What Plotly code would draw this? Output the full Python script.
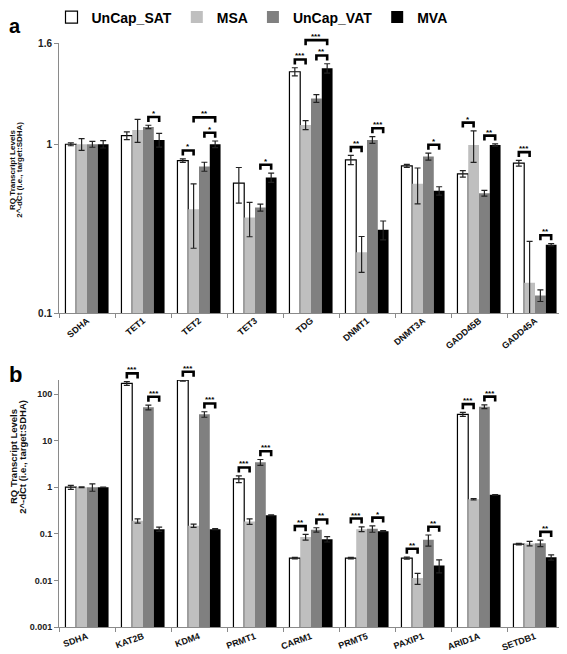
import numpy as np
import plotly.graph_objects as go

series_names = ["UnCap_SAT", "MSA", "UnCap_VAT", "MVA"]
series_colors = ["#ffffff", "#bfbfbf", "#808080", "#000000"]

# ---------------- panel a ----------------
cats_a = ["SDHA", "TET1", "TET2", "TET3", "TDG", "DNMT1", "DNMT3A", "GADD45B", "GADD45A"]
sat_a = [1.00, 1.125, 0.80, 0.588, 2.69, 0.808, 0.744, 0.668, 0.772]
sat_a_err = [0.02, 0.06, 0.02, 0.14, 0.15, 0.05, 0.015, 0.03, 0.03]
msa_a = [1.00, 1.216, 0.412, 0.368, 1.30, 0.229, 0.583, 0.99, 0.151]
msa_a_err = [0.08, 0.19, 0.17, 0.085, 0.08, 0.055, 0.14, 0.21, 0.115]
vat_a = [1.00, 1.266, 0.737, 0.422, 1.87, 1.061, 0.846, 0.513, 0.127]
vat_a_err = [0.04, 0.03, 0.045, 0.02, 0.10, 0.05, 0.04, 0.02, 0.01]
mva_a = [1.00, 1.061, 1.00, 0.635, 2.82, 0.311, 0.53, 0.99, 0.254]
mva_a_err = [0.05, 0.10, 0.045, 0.04, 0.18, 0.04, 0.03, 0.015, 0.004]
ticks_a = [0.1, 1, 10 ** 0.6]
ticktext_a = ["0.1", "1", "1.6"]
sig_a = [
    ("TET1", 2, 3, "*", 0), ("TET2", 0, 1, "*", 0), ("TET2", 2, 3, "*", 0),
    ("TET2", 1, 3, "**", 1), ("TET3", 2, 3, "*", 0), ("TDG", 0, 1, "***", 0),
    ("TDG", 2, 3, "**", 0), ("TDG", 1, 3, "***", 1), ("DNMT1", 0, 1, "**", 0),
    ("DNMT1", 2, 3, "***", 0), ("DNMT3A", 2, 3, "*", 0), ("GADD45B", 0, 1, "*", 0),
    ("GADD45B", 2, 3, "**", 0), ("GADD45A", 0, 1, "***", 0), ("GADD45A", 2, 3, "**", 0),
]

# ---------------- panel b ----------------
cats_b = ["SDHA", "KAT2B", "KDM4", "PRMT1", "CARM1", "PRMT5", "PAXIP1", "ARID1A", "SETDB1"]
sat_b = [1.0, 169, 198, 1.51, 0.0301, 0.0301, 0.0301, 36.7, 0.0601]
sat_b_err = [0.1, 15, 8, 0.25, 0.001, 0.001, 0.0015, 3.5, 0.002]
msa_b = [1.0, 0.19, 0.149, 0.184, 0.0849, 0.126, 0.0112, 0.553, 0.062]
msa_b_err = [0.02, 0.02, 0.012, 0.025, 0.012, 0.015, 0.003, 0.02, 0.007]
vat_b = [1.0, 51.8, 36.7, 3.43, 0.122, 0.128, 0.0742, 53.5, 0.063]
vat_b_err = [0.18, 6, 5, 0.5, 0.013, 0.02, 0.02, 5, 0.01]
mva_b = [1.0, 0.126, 0.126, 0.251, 0.0768, 0.114, 0.021, 0.685, 0.0313]
mva_b_err = [0.0, 0.013, 0.003, 0.005, 0.01, 0.003, 0.0065, 0.01, 0.004]
ticks_b = [0.001, 0.01, 0.1, 1, 10, 100]
ticktext_b = ["0.001", "0.01", "0.1", "1", "10", "100"]
sig_b = [
    ("KAT2B", 0, 1, "***", 0), ("KAT2B", 2, 3, "***", 0), ("KDM4", 0, 1, "***", 0),
    ("KDM4", 2, 3, "***", 0), ("PRMT1", 0, 1, "***", 0), ("PRMT1", 2, 3, "***", 0),
    ("CARM1", 0, 1, "**", 0), ("CARM1", 2, 3, "**", 0), ("PRMT5", 0, 1, "***", 0),
    ("PRMT5", 2, 3, "*", 0), ("PAXIP1", 0, 1, "**", 0), ("PAXIP1", 2, 3, "**", 0),
    ("ARID1A", 0, 1, "***", 0), ("ARID1A", 2, 3, "***", 0), ("SETDB1", 2, 3, "**", 0),
]

# ---------------- layout constants ----------------
# the page body has an 8px margin, so the figure is made 8px smaller and
# every position below is given in window pixels and shifted by OFF.
OFF = 8
W, H = 567 - OFF, 654 - OFF
ML, MR, MT, MB = 59 - OFF, 4, 43 - OFF, 27
PW = W - ML - MR
PH = H - MT - MB


def px_x(p):
    return (p - OFF - ML) / PW


def px_y(p):
    return (H - MB - (p - OFF)) / PH


dom_a = [px_y(313), 1.0]
dom_b = [0.0, px_y(380)]
range_a = [-1, 0.6]
range_b = [-3, np.log10(200)]
BARGAP = 0.23
FONT = "Arial, Liberation Sans, sans-serif"

fig = go.Figure()

panels = [
    ("x", "y", cats_a, [sat_a, msa_a, vat_a, mva_a], [sat_a_err, msa_a_err, vat_a_err, mva_a_err], True),
    ("x2", "y2", cats_b, [sat_b, msa_b, vat_b, mva_b], [sat_b_err, msa_b_err, vat_b_err, mva_b_err], False),
]
for xa, ya, cats, vals, errs, show in panels:
    for i, name in enumerate(series_names):
        fig.add_trace(go.Bar(
            x=cats, y=vals[i], name="<b>%s</b>" % name, legendgroup=name, showlegend=show,
            xaxis=xa, yaxis=ya,
            marker=dict(color=series_colors[i],
                        line=dict(color="#000000" if i == 0 else series_colors[i], width=1.2 if i == 0 else 0)),
            error_y=dict(type="data", array=errs[i], visible=True, color="#222222", thickness=1.2, width=3),
        ))


def to_paper(v, rng, dom):
    lv = min(np.log10(v), rng[1])
    return dom[0] + (lv - rng[0]) / (rng[1] - rng[0]) * (dom[1] - dom[0])


def bar_off(i):
    w = (1 - BARGAP) / 4
    return -(1 - BARGAP) / 2 + w * (i + 0.5)


shapes, annotations = [], []
for xa, cats, vals, errs, sigs, rng, dom in [
    ("x", cats_a, [sat_a, msa_a, vat_a, mva_a], [sat_a_err, msa_a_err, vat_a_err, mva_a_err], sig_a, range_a, dom_a),
    ("x2", cats_b, [sat_b, msa_b, vat_b, mva_b], [sat_b_err, msa_b_err, vat_b_err, mva_b_err], sig_b, range_b, dom_b),
]:
    for cat, i0, i1, lab, lev in sigs:
        c = cats.index(cat)
        top = max(to_paper(vals[j][c] + errs[j][c], rng, dom) for j in range(i0, i1 + 1))
        yb = top + (8.3 + 15.3 * lev) / PH
        yl = yb - 5 / PH
        x0, x1 = c + bar_off(i0), c + bar_off(i1)
        shapes.append(dict(type="path", xref=xa, yref="paper",
                           path="M %f,%f L %f,%f L %f,%f L %f,%f" % (x0, yl, x0, yb, x1, yb, x1, yl),
                           line=dict(color="#000000", width=2.6)))
        annotations.append(dict(x=(x0 + x1) / 2, y=yb, xref=xa, yref="paper", text="<b>%s</b>" % lab,
                                showarrow=False, yanchor="bottom", yshift=-3,
                                font=dict(size=8, color="#000000", family=FONT)))

# axis titles
for (y, x1, x2, fs) in [(169.5, 12.5, 19.3, 8), (457, 13.0, 21.8, 9.5)]:
    annotations.append(dict(x=px_x(x1), y=px_y(y), xref="paper", yref="paper", text="<b>RQ Transcript Levels</b>",
                            showarrow=False, textangle=-90, xanchor="center", yanchor="middle",
                            font=dict(size=fs, color="#111111", family=FONT)))
    annotations.append(dict(x=px_x(x2), y=px_y(y), xref="paper", yref="paper", text="<b>2^-dCt (i.e., target:SDHA)</b>",
                            showarrow=False, textangle=-90, xanchor="center", yanchor="middle",
                            font=dict(size=fs, color="#111111", family=FONT)))
# panel letters
for lab, x, y, fs in [("a", 15, 26, 20), ("b", 15, 374, 22)]:
    annotations.append(dict(x=px_x(x), y=px_y(y), xref="paper", yref="paper", text="<b>%s</b>" % lab,
                            showarrow=False, xanchor="center", yanchor="middle",
                            font=dict(size=fs, color="#000000", family=FONT)))

axis_common = dict(showline=True, linecolor="#8a8a8a", linewidth=1, showgrid=False, zeroline=False,
                   ticks="outside", ticklen=4, tickcolor="#8a8a8a", automargin=False)
fig.update_layout(
    width=W, height=H, margin=dict(l=ML, r=MR, t=MT, b=MB, autoexpand=False),
    paper_bgcolor="white", plot_bgcolor="white",
    barmode="group", bargap=BARGAP, bargroupgap=0,
    font=dict(family=FONT),
    xaxis=dict(axis_common, anchor="y", domain=[0, 1], tickson="boundaries", tickangle=-40,
               ticklabelstandoff=-2,
               tickfont=dict(size=9, color="#111111", weight="bold")),
    yaxis=dict(axis_common, anchor="x", domain=dom_a, type="log", range=range_a,
               tickvals=ticks_a, ticktext=ticktext_a,
               tickfont=dict(size=10, color="#222222", weight="bold")),
    xaxis2=dict(axis_common, anchor="y2", domain=[0, 1], tickson="boundaries", tickangle=-20,
                tickfont=dict(size=9, color="#111111", weight="bold")),
    yaxis2=dict(axis_common, anchor="x2", domain=dom_b, type="log", range=range_b,
                tickvals=ticks_b, ticktext=ticktext_b,
                tickfont=dict(size=9, color="#222222", weight="bold")),
    legend=dict(orientation="h", x=px_x(252), y=px_y(17.5), xanchor="center", yanchor="middle",
                font=dict(size=14, color="#000000", family=FONT), bgcolor="rgba(0,0,0,0)",
                itemwidth=30, tracegroupgap=0),
    shapes=shapes, annotations=annotations,
)

fig.write_html("out.html")
